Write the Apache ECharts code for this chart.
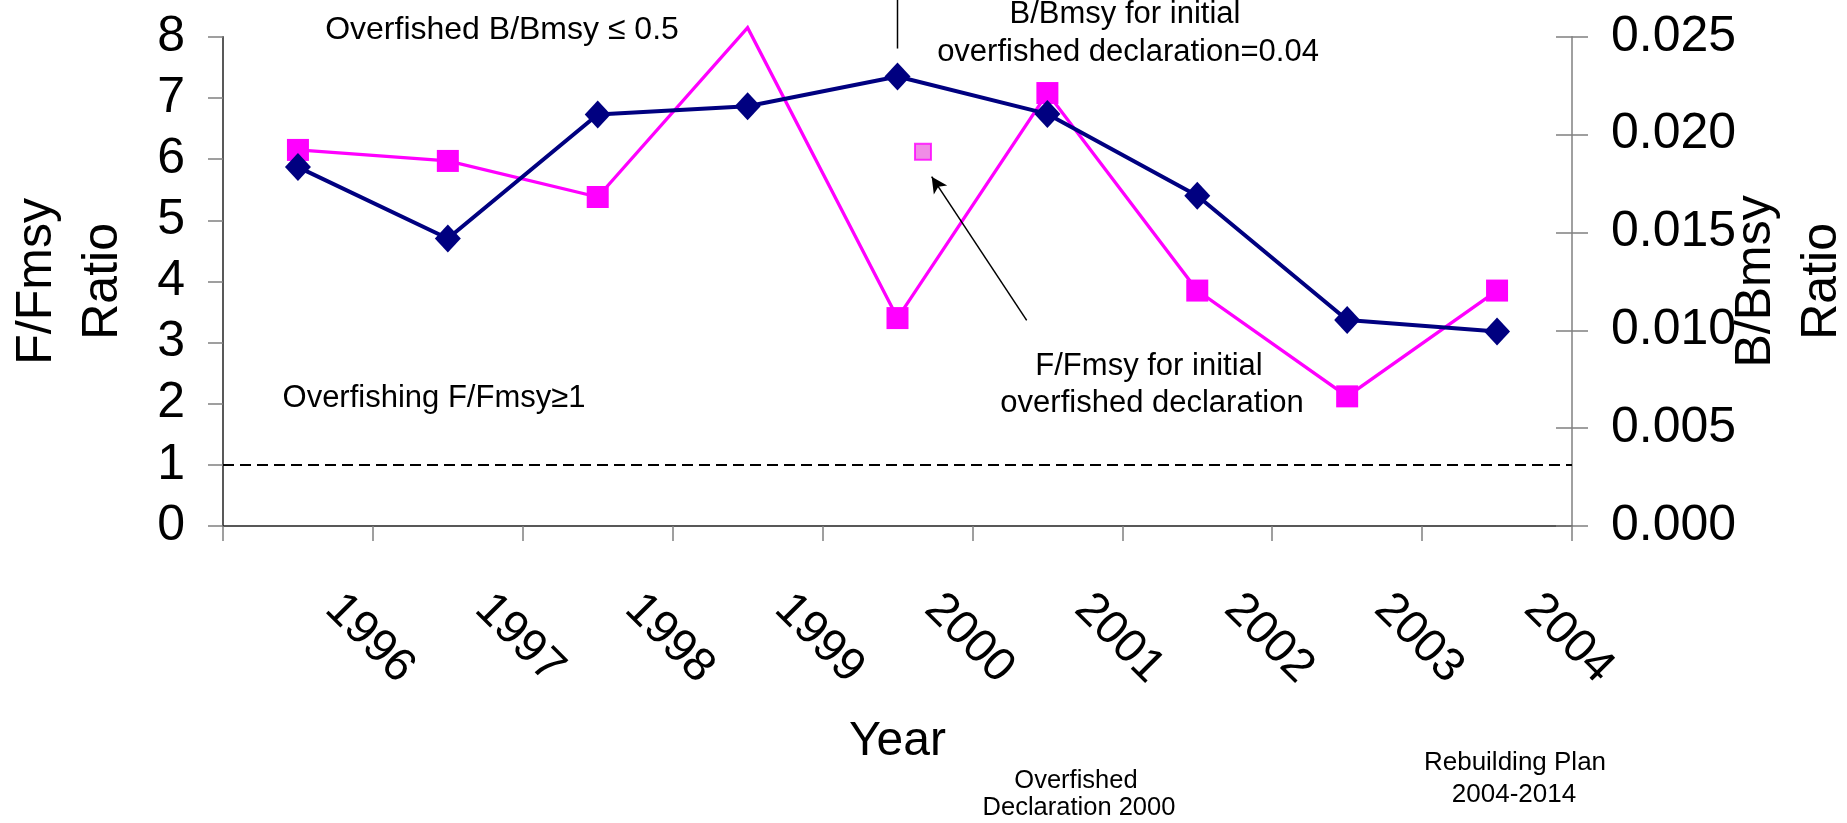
<!DOCTYPE html>
<html>
<head>
<meta charset="utf-8">
<script src="https://cdn.jsdelivr.net/npm/echarts@6/dist/echarts.min.js"></script>
<style>
html,body{margin:0;padding:0;background:#fff;}
#c{width:1847px;height:823px;}
</style>
</head>
<body>
<div id="c"></div>
<script>
// ---- data ----
const years = ['1996','1997','1998','1999','2000','2001','2002','2003','2004'];
const fFmsy = [6.15, 5.97, 5.38, 8.15, 3.40, 7.08, 3.85, 2.12, 3.85];
const fFmsyHiddenMarker = ['1999'];
const bBmsy = [0.01834, 0.01469, 0.02103, 0.02145, 0.02297, 0.02106, 0.01688, 0.01053, 0.00994];
const declarationF = [4.17, 6.12];          // [hidden x position, F/Fmsy]
const arrowFrom = [4.862, 3.363];
const arrowTo = [4.228, 5.713];
const overfishingLevel = 1;
const declarationBYear = '2000';
const declarationBLineEnd = 0.0244;         // B/Bmsy where the pointer line from the top stops
const leftAxis = {min: 0, max: 8, interval: 1};
const rightAxis = {min: 0, max: 0.025, interval: 0.005};

const FONT = 'Liberation Sans, Arial, sans-serif';
const chart = echarts.init(document.getElementById('c'), null, {renderer: 'canvas'});

function txt(text, x, y, size) {
  return {
    type: 'text', x: x, y: y, silent: true,
    style: {text: text, fill: '#000', fontSize: size, fontFamily: FONT,
            align: 'center', verticalAlign: 'middle', textAlign: 'center', textVerticalAlign: 'middle'}
  };
}

const option = {
  animation: false,
  backgroundColor: '#fff',
  grid: {left: 223, right: 275, top: 36.8, bottom: 297, containLabel: false, outerBoundsMode: 'none'},
  xAxis: [
    {
      type: 'category', data: years, boundaryGap: true, position: 'bottom',
      axisLine: {show: true, onZero: false, lineStyle: {color: '#222', width: 1.5}},
      axisTick: {show: true, length: 15, lineStyle: {color: '#808080', width: 1.5}},
      axisLabel: {interval: 0, rotate: -45, fontSize: 47, fontFamily: FONT, color: '#000',
                  margin: 41, padding: [0, 0, 0, 49]},
      splitLine: {show: false},
      name: 'Year', nameLocation: 'middle', nameGap: 192, nameMoveOverlap: false,
      nameTextStyle: {fontSize: 48, fontFamily: FONT, color: '#000', lineHeight: 48}
    },
    {
      type: 'value', min: -0.5, max: 8.5, show: false,
      axisLine: {onZero: false}
    }
  ],
  yAxis: [
    {
      type: 'value', position: 'left', min: leftAxis.min, max: leftAxis.max, interval: leftAxis.interval,
      axisLine: {show: true, onZero: false, lineStyle: {color: '#222', width: 1.5}},
      axisTick: {show: true, inside: false, length: 15, lineStyle: {color: '#808080', width: 1.5}},
      axisLabel: {fontSize: 50, fontFamily: FONT, color: '#000', margin: 38},
      splitLine: {show: false},
      name: 'F/Fmsy\nRatio', nameLocation: 'middle', nameRotate: 90, nameGap: 87, nameMoveOverlap: false,
      nameTextStyle: {fontSize: 50, fontFamily: FONT, color: '#000', lineHeight: 66}
    },
    {
      type: 'value', position: 'right', min: rightAxis.min, max: rightAxis.max, interval: rightAxis.interval,
      axisLine: {show: true, onZero: false, lineStyle: {color: '#808080', width: 1.5}},
      axisTick: {show: true, inside: false, length: 16, lineStyle: {color: '#808080', width: 1.5}},
      axisLabel: {fontSize: 50, fontFamily: FONT, color: '#000', margin: 39,
                  formatter: function (v) { return v.toFixed(3); }},
      splitLine: {show: false},
      name: 'B/Bmsy\nRatio', nameLocation: 'middle', nameRotate: 90, nameGap: 151, nameMoveOverlap: false,
      nameTextStyle: {fontSize: 50, fontFamily: FONT, color: '#000', lineHeight: 66}
    },
    {
      type: 'value', position: 'right', min: rightAxis.min, max: rightAxis.max, interval: rightAxis.interval,
      axisLine: {show: false, onZero: false},
      axisTick: {show: true, inside: true, length: 16, lineStyle: {color: '#808080', width: 1.5}},
      axisLabel: {show: false},
      splitLine: {show: false}
    }
  ],
  series: [
    {
      name: 'F/Fmsy', type: 'line', xAxisIndex: 0, yAxisIndex: 0, clip: false,
      data: fFmsy.map(function (v, i) {
        return fFmsyHiddenMarker.indexOf(years[i]) >= 0 ? {value: v, symbol: 'none'} : v;
      }),
      symbol: 'rect', symbolSize: 22, showAllSymbol: true,
      itemStyle: {color: '#FF00FF'},
      lineStyle: {color: '#FF00FF', width: 3.3, join: 'miter'},
      emphasis: {disabled: true},
      markLine: {
        silent: true, symbol: ['none', 'none'], label: {show: false},
        lineStyle: {color: '#000', width: 2, type: [11, 6]},
        emphasis: {disabled: true},
        data: [{yAxis: overfishingLevel}]
      },
      z: 2
    },
    {
      name: 'B/Bmsy', type: 'line', xAxisIndex: 0, yAxisIndex: 1, clip: false,
      data: bBmsy,
      symbol: 'diamond', symbolSize: [26, 28], showAllSymbol: true,
      itemStyle: {color: '#000080'},
      lineStyle: {color: '#000080', width: 4},
      emphasis: {disabled: true},
      z: 3
    },
    {
      name: 'F/Fmsy declaration', type: 'scatter', xAxisIndex: 1, yAxisIndex: 0, clip: false,
      data: [declarationF],
      symbol: 'rect', symbolSize: 16,
      itemStyle: {color: '#EC6FE0', borderColor: '#FF00FF', borderWidth: 2},
      emphasis: {disabled: true},
      markLine: {
        silent: true, symbol: ['none', 'arrow'], symbolSize: [12, 16], label: {show: false},
        lineStyle: {color: '#000', width: 1.5, type: 'solid'},
        emphasis: {disabled: true},
        data: [[{coord: arrowFrom}, {coord: arrowTo}]]
      },
      z: 4
    }
  ],
  graphic: [
    txt('Overfished B/Bmsy \u2264 0.5', 502, 30, 32),
    txt('B/Bmsy for initial', 1125, 14, 31),
    txt('overfished declaration=0.04', 1128, 52, 31),
    txt('F/Fmsy for initial', 1149, 366, 31),
    txt('overfished declaration', 1152, 403.5, 31),
    txt('Overfishing F/Fmsy\u22651', 434, 398, 31),
    txt('Overfished', 1076, 781, 25.5),
    txt('Declaration 2000', 1079, 808, 25.5),
    txt('Rebuilding Plan', 1515, 763, 26),
    txt('2004-2014', 1514, 794.5, 26)
  ]
};
chart.setOption(option);

// pointer line from the top edge down to the 2000 B/Bmsy marker, positioned through the axes' scales
const pEnd = chart.convertToPixel({xAxisIndex: 0, yAxisIndex: 1}, [declarationBYear, declarationBLineEnd]);
chart.setOption({
  graphic: [{
    id: 'declPointer', type: 'line', silent: true,
    shape: {x1: pEnd[0], y1: 0, x2: pEnd[0], y2: pEnd[1]},
    style: {stroke: '#000', lineWidth: 1.5}
  }]
});
</script>
</body>
</html>
